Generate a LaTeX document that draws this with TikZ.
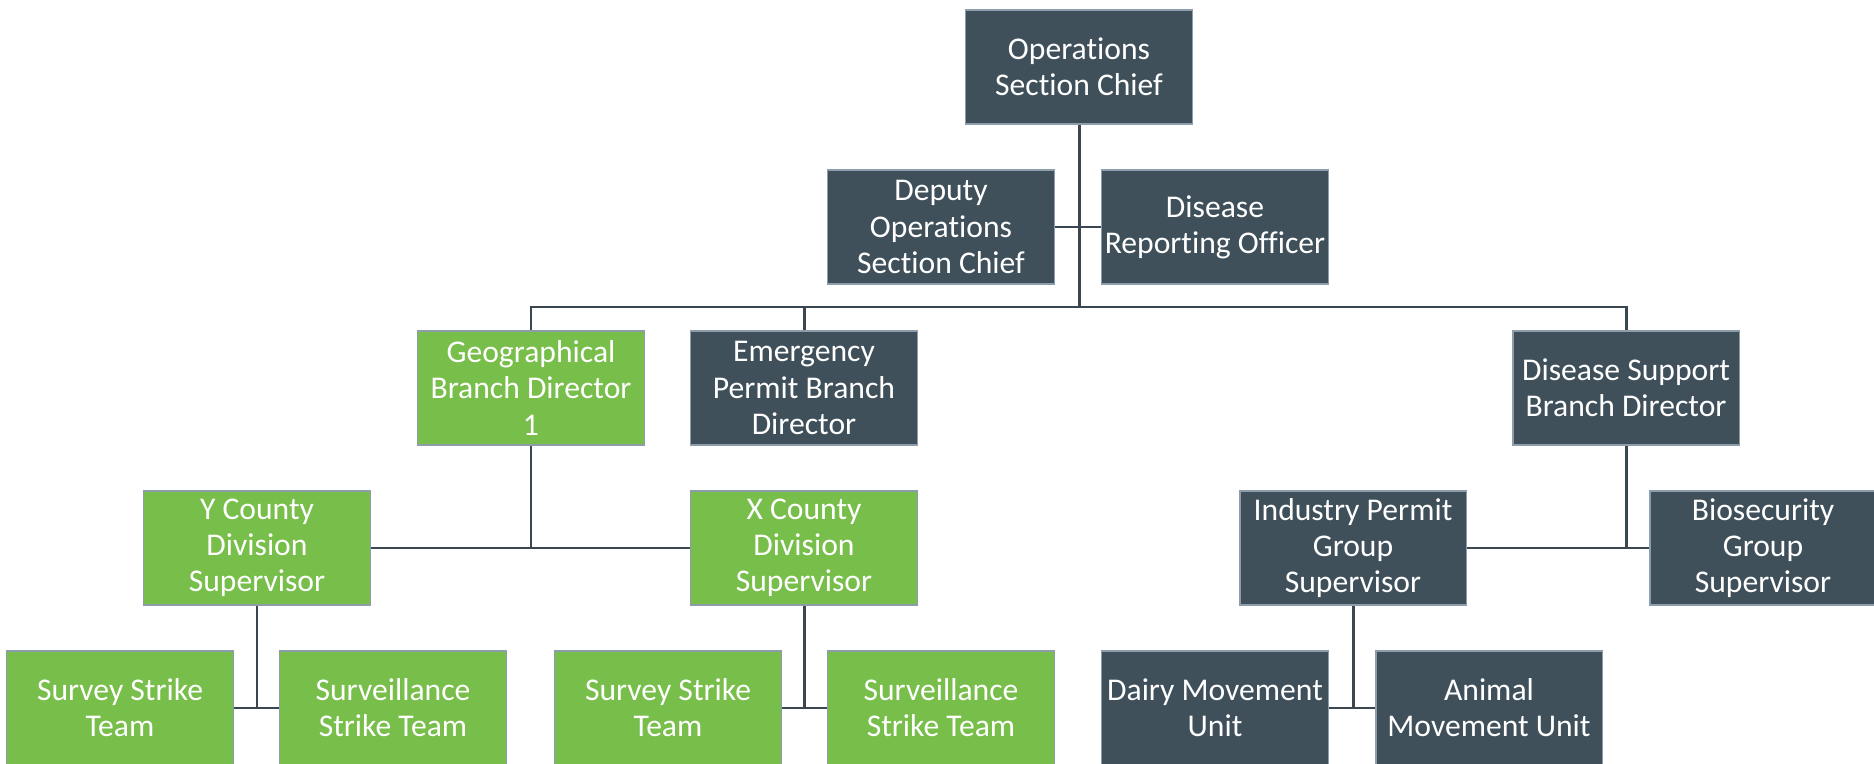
\documentclass[tikz,border=0pt]{standalone}
\usepackage{fontspec}
\setmainfont{Carlito}[Ligatures={NoCommon}]
\usetikzlibrary{calc}
\definecolor{slate}{HTML}{3F505A}
\definecolor{leaf}{HTML}{78BE4A}
\definecolor{rim}{HTML}{8E9DAB}
\definecolor{wire}{HTML}{3A4650}
\tikzset{
	every node/.style={
		font=\fontsize{18}{20.6}\selectfont
	},
	unit/.style={
		shape=rectangle,
		minimum width=4.54cm,
		minimum height=2.28cm,
		inner sep=0pt,
		align=center,
		text=white,
		draw=rim,
		line width=1.1pt,
		fill=slate
	},
	field/.style={
		unit,
		fill=leaf
	},
	link/.style={draw=wire, line width=1.7pt}
}

\begin{document}
\begin{tikzpicture}
	[x=0.02cm, y=-0.02cm]
	\useasboundingbox (0,0) rectangle (1874,764);
	\clip (0,0) rectangle (1874,764);
	
	% command level
	\node[unit] (osc) at (1079,67) {Operations\\Section Chief};
	\node[unit] (dosc) at (941,227) {Deputy\\Operations\\Section Chief};
	\node[unit] (dro) at (1215,227) {Disease\\Reporting Officer};
	
	% branches
	\node[field] (gbd) at (531,388) {Geographical\\Branch Director\\1};
	\node[unit] (epb) at (804,388) {Emergency\\Permit Branch\\Director};
	\node[unit] (dsb) at (1626,388) {Disease Support\\Branch Director};
	
	% divisions and groups
	\node[field] (ycd) at (257,548) {Y County\\Division\\Supervisor};
	\node[field] (xcd) at (804,548) {X County\\Division\\Supervisor};
	\node[unit] (ipg) at (1353,548) {Industry Permit\\Group\\Supervisor};
	\node[unit] (bsg) at (1763,548) {Biosecurity\\Group\\Supervisor};
	
	% teams and units
	\node[field] (sst-1) at (120,708) {Survey Strike\\Team};
	\node[field] (slt-1) at (393,708) {Surveillance\\Strike Team};
	\node[field] (sst-2) at (668,708) {Survey Strike\\Team};
	\node[field] (slt-2) at (941,708) {Surveillance\\Strike Team};
	\node[unit] (dmu) at (1215,708) {Dairy Movement\\Unit};
	\node[unit] (amu) at (1489,708) {Animal\\Movement Unit};
	
	\coordinate (bus) at (1079,307);
	
	\path[link] (osc.south) -- (bus);
	\path[link] (dosc.east) -- (dro.west);
	\path[link] (gbd.north) |- (bus) -| (dsb.north);
	\path[link] (epb.north) -- (epb.north |- bus);
	
	\path[link] (ycd.east) -- (xcd.west);
	\path[link] (gbd.south) -- (gbd.south |- ycd.east);
	\path[link] (ipg.east) -- (bsg.west);
	\path[link] (dsb.south) -- (dsb.south |- bsg.west);
	
	\path[link] (sst-1.east) -- (slt-1.west);
	\path[link] (ycd.south) -- (ycd.south |- sst-1.east);
	\path[link] (sst-2.east) -- (slt-2.west);
	\path[link] (xcd.south) -- (xcd.south |- sst-2.east);
	\path[link] (dmu.east) -- (amu.west);
	\path[link] (ipg.south) -- (ipg.south |- dmu.east);
\end{tikzpicture}
\end{document}
